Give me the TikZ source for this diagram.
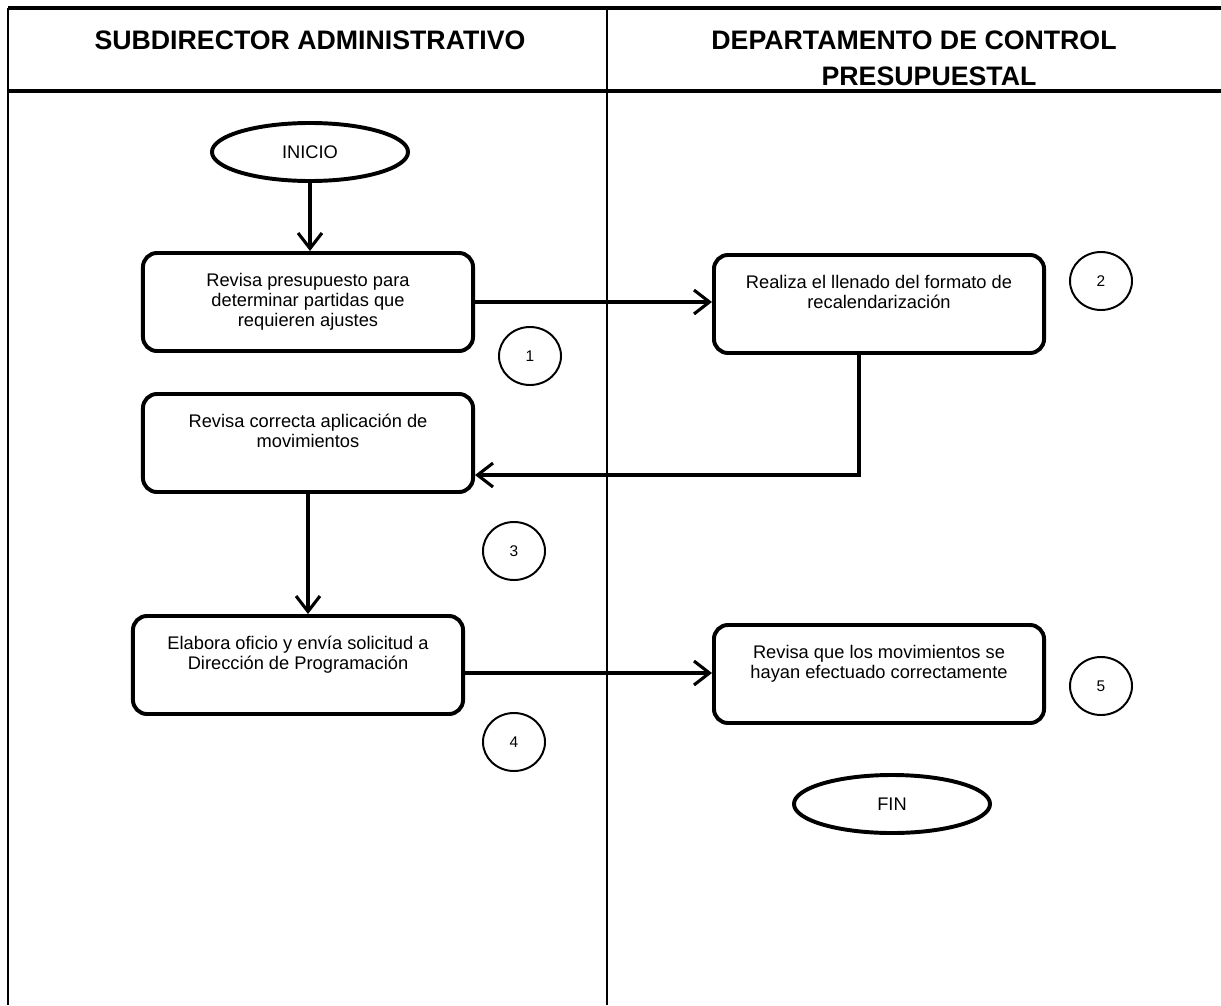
\documentclass[tikz,border=0pt]{standalone}
\usepackage{fontspec}
\setmainfont{Liberation Sans}
\usetikzlibrary{positioning, arrows.meta, shapes.geometric}
\tikzset{
x=0.025cm, y=-0.025cm, % one unit is one pixel of the sheet, y runs downwards
>={Straight Barb[length=11pt,width=17pt]}, % open arrow heads
lane/.style={line width=1pt}, % lines of the two columns
rule/.style={line width=2.2pt}, % top rule and rule under the titles
titulo/.style={align=center, inner sep=0pt, font=\bfseries\fontsize{19}{25}\selectfont},
paso/.style={draw, rectangle, rounded corners=10pt, line width=2.8pt, minimum width=8.25cm, minimum height=2.45cm},
texto/.style={align=center, inner sep=0pt, font=\fontsize{13}{14.2}\selectfont},
terminal/.style={draw, ellipse, line width=2.8pt, minimum width=4.9cm, minimum height=1.45cm, inner sep=0pt, font=\fontsize{13}{15}\selectfont},
num/.style={draw, ellipse, line width=1.4pt, minimum width=1.55cm, minimum height=1.45cm, inner sep=0pt, font=\fontsize{11}{13}\selectfont},
flecha/.style={->, line width=2.2pt},
}
\begin{document}
\begin{tikzpicture}
    \useasboundingbox (0,0) rectangle (1221,1005);
    % columns
    \draw[rule] (8,8) -- (1221,8);
    \draw[rule] (8,91) -- (1221,91);
    \draw[lane] (8,8) -- (8,1005);
    \draw[lane] (607,8) -- (607,1005);
    \node[titulo, anchor=north] (h1) at (310,31) {SUBDIRECTOR ADMINISTRATIVO};
    \node[titulo, anchor=north] (h2) at (914,31) {DEPARTAMENTO DE CONTROL\\\hspace*{0.75cm}PRESUPUESTAL};

    \node[terminal] (ini) at (310,152) {INICIO};
    \node[paso] (b1) at (308,302) {};
    \node[paso] (b2) at (879,304) {};
    \node[paso] (b3) at (308,443) {};
    \node[paso] (b4) at (298,665) {};
    \node[paso] (b5) at (879,674) {};
    \node[terminal] (fin) at (892,804) {FIN};

    \node[texto, below=0.55cm of b1.north] (t1) {Revisa presupuesto para\\determinar partidas que\\requieren ajustes};
    \node[texto, below=0.55cm of b2.north] (t2) {Realiza el llenado del formato de\\recalendarización};
    \node[texto, below=0.55cm of b3.north] (t3) {Revisa correcta aplicación de\\movimientos};
    \node[texto, below=0.55cm of b4.north] (t4) {Elabora oficio y envía solicitud a\\Dirección de Programación};
    \node[texto, below=0.55cm of b5.north] (t5) {Revisa que los movimientos se\\hayan efectuado correctamente};

    \node[num] (n1) at (530,356) {1};
    \node[num] (n2) at (1101,281) {2};
    \node[num] (n3) at (514,551) {3};
    \node[num] (n4) at (514,742) {4};
    \node[num] (n5) at (1101,686) {5};

    \coordinate (c3) at ([yshift=-0.8cm]b3.east);
    \draw[flecha] (ini.south) -- (ini.south |- b1.north);
    \draw[flecha] (b1.east) -- (b1.east -| b2.west);
    \draw[flecha] ([xshift=-0.5cm]b2.south) |- (c3);
    \draw[flecha] (b3.south) -- (b3.south |- b4.north);
    \draw[flecha] ([yshift=-0.2cm]b4.east) -- ([yshift=-0.2cm]b4.east -| b5.west);
\end{tikzpicture}
\end{document}
